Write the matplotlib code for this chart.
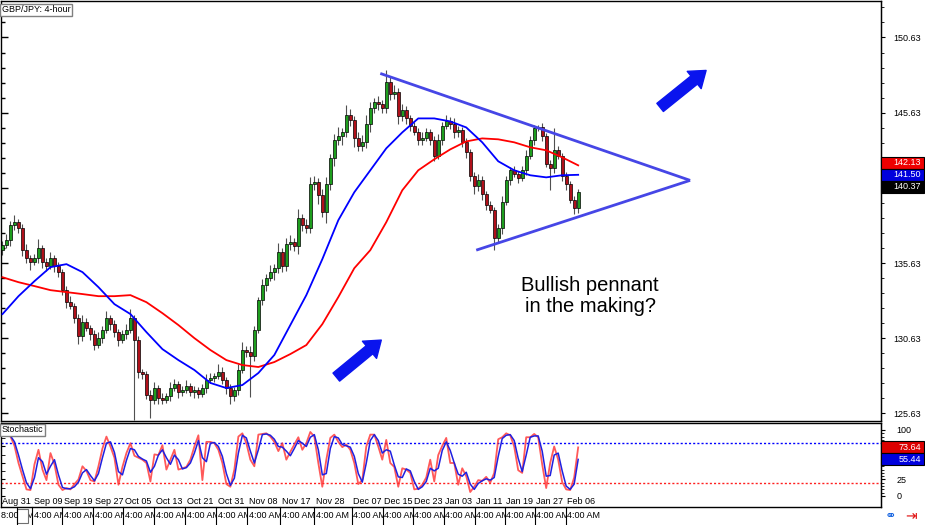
import numpy as np
import matplotlib.pyplot as plt
from matplotlib.patches import Rectangle
from matplotlib.ticker import FixedLocator
from matplotlib.transforms import blended_transform_factory

# 4-hour candles (open = previous close)
first_open = 136.50
closes = [136.82, 137.15, 138.15, 138.35, 137.95, 136.49, 135.96, 135.69, 135.96, 136.62,
          135.69, 135.42, 135.96, 135.42, 135.03, 133.83, 133.03, 132.77, 131.97, 130.78,
          131.71, 131.31, 130.91, 130.18, 130.64, 131.18, 131.97, 131.57, 131.04, 130.51,
          130.91, 131.18, 131.97, 130.51, 128.39, 128.25, 126.86, 126.53, 127.32, 126.66,
          126.53, 126.79, 127.32, 127.59, 127.06, 127.19, 127.46, 127.06, 127.19, 126.93,
          127.32, 127.86, 127.99, 128.12, 128.39, 127.86, 127.32, 126.79, 127.19, 128.52,
          129.85, 129.71, 129.45, 131.18, 133.17, 134.16, 134.63, 135.03, 135.29, 136.35,
          135.42, 136.89, 137.02, 136.75, 138.61, 138.15, 137.95, 140.87, 141.00, 140.14,
          139.01, 140.87, 142.60, 143.79, 144.06, 144.32, 145.45, 145.12, 143.92, 143.39,
          143.66, 144.85, 145.92, 146.31, 146.18, 145.92, 147.64, 146.85, 146.98, 145.38,
          145.78, 145.25, 144.72, 144.32, 143.79, 143.92, 144.32, 143.79, 142.73, 143.79,
          144.72, 145.05, 144.85, 144.32, 144.46, 143.66, 142.99, 141.40, 140.74, 141.14,
          140.21, 139.48, 139.14, 137.28, 137.95, 139.67, 141.14, 141.80, 141.53, 141.27,
          141.80, 142.73, 143.79, 144.59, 144.65, 144.06, 142.20, 141.93, 143.13, 142.73,
          141.40, 140.87, 139.81, 139.28, 140.37]
upper_wick = [0.3, 0.4, 0.3, 0.5, 0.2, 0.3, 0.4, 0.2, 0.3, 0.6, 0.2, 0.3, 0.4, 0.2, 0.3,
              0.2, 0.3, 0.4, 0.2, 0.3, 0.5, 0.3, 0.2, 0.3, 0.4, 0.3, 0.5, 0.2, 0.3, 0.2,
              0.3, 0.4, 0.6, 0.2, 0.3, 0.2, 0.2, 0.3, 0.4, 0.2, 0.3, 0.2, 0.4, 0.3, 0.2,
              0.3, 0.4, 0.2, 0.3, 0.2, 0.3, 0.4, 0.3, 0.2, 0.5, 0.3, 0.2, 0.3, 0.2, 0.4,
              0.5, 0.3, 0.4, 0.3, 0.2, 0.4, 0.3, 0.5, 0.3, 0.6, 0.3, 0.4, 0.5, 0.3, 0.6,
              0.3, 0.4, 0.5, 0.4, 0.3, 0.4, 0.5, 0.3, 0.4, 0.6, 0.3, 0.7, 0.4, 0.3, 0.4,
              0.5, 0.6, 0.4, 0.3, 0.4, 0.3, 0.8, 0.4, 0.5, 0.3, 0.4, 0.3, 0.2, 0.3, 0.3,
              0.4, 0.3, 0.2, 0.3, 0.4, 0.3, 0.4, 0.3, 0.4, 0.3, 0.2, 0.3, 0.2, 0.3, 0.4,
              0.3, 0.2, 0.3, 0.2, 0.3, 0.4, 0.3, 0.2, 0.3, 0.2, 0.3, 0.4, 0.3, 0.2, 0.13,
              0.3, 0.2, 0.3, 1.47, 0.3, 0.2, 0.3, 0.2, 0.3, 0.2]
lower_wick = [0.3, 0.2, 0.4, 0.3, 0.3, 0.4, 0.3, 0.5, 0.2, 0.3, 0.4, 0.3, 0.2, 0.4, 0.3,
              0.3, 0.4, 0.2, 0.3, 0.5, 0.3, 0.2, 0.4, 0.3, 0.2, 0.3, 0.2, 0.4, 0.3, 0.4,
              0.2, 0.3, 0.2, 5.3, 0.4, 0.3, 0.3, 1.2, 0.3, 0.4, 0.3, 0.2, 0.3, 0.2, 0.4,
              0.3, 0.2, 0.3, 0.4, 0.3, 0.2, 0.3, 0.2, 0.3, 0.2, 0.3, 0.4, 0.5, 0.3, 0.3,
              0.2, 0.3, 2.75, 0.3, 0.2, 0.3, 0.4, 0.2, 0.5, 0.3, 0.4, 0.3, 0.4, 0.3, 0.5,
              0.4, 0.3, 0.3, 0.4, 0.6, 0.3, 0.7, 0.4, 0.5, 0.3, 0.6, 0.3, 0.4, 0.6, 0.3,
              0.3, 0.4, 0.5, 0.3, 0.4, 0.3, 0.3, 0.4, 0.3, 0.5, 0.3, 0.4, 0.3, 0.2, 0.3,
              0.3, 0.2, 0.3, 0.3, 0.2, 0.3, 0.2, 0.3, 0.4, 0.3, 0.3, 0.4, 0.3, 0.5, 0.3,
              0.4, 0.3, 0.2, 0.79, 0.3, 0.4, 0.2, 0.3, 0.2, 0.3, 0.2, 0.3, 0.2, 0.3, 0.2,
              0.3, 0.2, 1.46, 0.3, 0.2, 0.3, 0.4, 0.2, 0.4, 0.3]

# moving averages, one value every 4 bars
ma_fast = [132.24, 133.43, 134.43, 135.36, 135.56, 135.03, 134.03, 132.90, 132.24, 131.04,
           129.91, 129.18, 128.52, 127.66, 127.32, 127.52, 128.32, 129.52, 131.51, 133.50,
           135.89, 138.48, 140.34, 141.80, 143.26, 144.32, 145.25, 145.25, 145.05, 144.65,
           143.66, 142.40, 141.80, 141.47, 141.33, 141.47, 141.50]
ma_slow = [134.69, 134.36, 134.10, 133.83, 133.70, 133.57, 133.43, 133.43, 133.50, 133.03,
           132.30, 131.51, 130.64, 129.85, 129.18, 128.85, 128.72, 129.05, 129.58, 130.18,
           131.57, 133.37, 135.29, 136.49, 138.35, 140.47, 141.80, 142.53, 143.19, 143.72,
           143.92, 143.86, 143.66, 143.33, 143.13, 142.66, 142.13]

stoch_main = [97, 93, 90, 76, 50, 30, 10, 9, 48, 70, 40, 24, 65, 48, 17, 9, 12, 10, 18, 25,
              45, 38, 24, 22, 45, 72, 90, 75, 58, 17, 44, 65, 80, 61, 58, 55, 50, 22, 63, 62,
              77, 40, 55, 70, 40, 42, 44, 55, 75, 92, 24, 82, 82, 80, 70, 50, 18, 14, 40, 90,
              95, 80, 55, 45, 93, 94, 95, 90, 82, 68, 80, 55, 67, 78, 89, 70, 80, 97, 90, 50,
              14, 55, 88, 93, 82, 74, 78, 70, 50, 18, 24, 75, 93, 93, 75, 55, 85, 50, 44, 14,
              42, 40, 35, 10, 11, 17, 28, 55, 22, 62, 76, 88, 50, 50, 17, 42, 30, 6, 14, 24,
              23, 29, 20, 35, 86, 89, 95, 92, 75, 39, 35, 89, 89, 94, 89, 48, 12, 50, 75, 55,
              21, 10, 9, 28, 73.64]
stoch_signal = [95, 94, 91, 82, 62, 40, 20, 11, 28, 58, 52, 33, 45, 55, 32, 13, 11, 11, 14, 21,
                35, 40, 31, 23, 34, 58, 80, 82, 66, 37, 32, 54, 72, 70, 60, 56, 53, 36, 45, 62,
                70, 58, 48, 62, 55, 41, 43, 50, 65, 84, 58, 52, 80, 81, 75, 60, 34, 16, 27, 65,
                92, 88, 68, 50, 70, 93, 94, 92, 86, 75, 74, 68, 61, 72, 84, 80, 75, 89, 93, 70,
                32, 34, 72, 90, 88, 78, 76, 74, 60, 34, 21, 50, 84, 93, 84, 65, 70, 68, 47, 29,
                28, 41, 38, 22, 10, 14, 22, 42, 38, 42, 69, 82, 69, 50, 33, 30, 36, 18, 10, 19,
                23, 26, 24, 28, 60, 87, 92, 93, 84, 57, 37, 62, 89, 91, 91, 68, 30, 31, 62, 65,
                38, 15, 10, 18, 55.44]

date_labels = ['Aug 31', 'Sep 09', 'Sep 19', 'Sep 27', 'Oct 05', 'Oct 13', 'Oct 21', 'Oct 31',
               'Nov 08', 'Nov 17', 'Nov 28', 'Dec 07', 'Dec 15', 'Dec 23', 'Jan 03', 'Jan 11',
               'Jan 19', 'Jan 27', 'Feb 06']
date_bars = [-0.5, 7.5, 15, 22.75, 30.25, 38, 45.75, 53.5, 61.25, 69.5, 78, 87.5, 95.25,
             102.75, 110.5, 118.25, 125.75, 133.25, 141]
price_levels = [125.63, 130.63, 135.63, 140.63, 145.63, 150.63]
stoch_levels = [0, 25, 50, 75, 100]
# levels whose labels sit under the coloured price tags
hidden_labels = [140.63, 50, 75]

# pennant lines and arrows (bar, price)
pennant_top = [(94.5, 148.24), (172, 141.13)]
pennant_bottom = [(118.5, 136.49), (172, 141.13)]
arrows = [((83.5, 128.05), (94.75, 130.51)), ((164.5, 145.98), (176, 148.44))]

plt.rcParams['font.family'] = ['Liberation Sans', 'DejaVu Sans']
SMALL = 6.5

closes = np.array(closes)
opens = np.r_[first_open, closes[:-1]]
highs = np.maximum(opens, closes) + np.array(upper_wick)
lows = np.minimum(opens, closes) - np.array(lower_wick)
bars = np.arange(len(closes))

W, H = 925, 525
fig = plt.figure(figsize=(W / 100, H / 100), dpi=100)
ax = fig.add_axes([0.5 / W, 1 - 421 / H, 880.5 / W, 420.5 / H])
sx = fig.add_axes([0.5 / W, 1 - 507 / H, 880.5 / W, 84 / H])

for a in (ax, sx):
    a.set_xlim(-0.5, 219.75)
    a.set_xticks([])
    for s in a.spines.values():
        s.set_color('black')
        s.set_linewidth(1)

# candles
up = closes >= opens
ax.vlines(bars, lows, highs, color='#505050', lw=0.8, zorder=2)
ax.bar(bars, np.maximum(np.abs(closes - opens), 0.05), bottom=np.minimum(opens, closes),
       width=0.75, color=np.where(up, '#1e9e1e', '#b0101a'), edgecolor='black',
       linewidth=0.5, zorder=3)

ma_x = np.arange(0, len(closes), 4)
ax.plot(ma_x, ma_slow, color='#ff0000', lw=1.3, zorder=4)
ax.plot(ma_x, ma_fast, color='#0000ff', lw=1.3, zorder=4)

for line in (pennant_top, pennant_bottom):
    xs, ys = zip(*line)
    ax.plot(xs, ys, color='#4646e6', lw=2, zorder=5, solid_capstyle='butt')

for tail, tip in arrows:
    ax.annotate('', xy=tip, xytext=tail,
                arrowprops=dict(arrowstyle='simple,head_length=1.1,head_width=1.6,tail_width=0.75',
                                mutation_scale=10, color='#0a14ee', shrinkA=0, shrinkB=0))

ax.text(147, 133.45, 'Bullish pennant\nin the making?', ha='center', va='center',
        fontsize=14.5, linespacing=1.1)


def label(v, fmt):
    return '' if v in hidden_labels else fmt.format(v)


ax.set_ylim(125.13, 153.09)
minor_prices = np.arange(125.63, 153.0, 1.0)
ax.set_yticks(price_levels)
ax.yaxis.set_minor_locator(FixedLocator(minor_prices))
ax.tick_params(axis='y', which='both', left=True, right=False, direction='in',
               labelleft=False, width=1)
ax.tick_params(axis='y', which='major', length=5)
ax.tick_params(axis='y', which='minor', length=3)
rax = ax.secondary_yaxis('right')
rax.set_yticks(price_levels)
rax.set_yticklabels([label(v, '{:.2f}') for v in price_levels])
rax.yaxis.set_minor_locator(FixedLocator(minor_prices))
rax.tick_params(which='major', direction='out', length=3, pad=6, labelsize=SMALL)
rax.tick_params(which='minor', direction='out', length=2)

# stochastic panel
sx.set_ylim(-16.7, 110.6)
sx.axhline(80, color='#0000ff', lw=1, ls=(0, (1.5, 1.5)))
sx.axhline(20, color='#ff2020', lw=1, ls=(0, (1.5, 1.5)))
sx.plot(bars, stoch_main, color='#ff3030', lw=1.3, alpha=0.8)
sx.plot(bars, stoch_signal, color='#2020e0', lw=1.1)
sx.set_yticks(stoch_levels)
sx.yaxis.set_minor_locator(FixedLocator(np.arange(0, 101, 12.5)))
sx.tick_params(axis='y', which='both', left=True, right=False, direction='in',
               labelleft=False, length=3)
srax = sx.secondary_yaxis('right')
srax.set_yticks(stoch_levels)
srax.set_yticklabels([label(v, '{:d}') for v in stoch_levels])
srax.yaxis.set_minor_locator(FixedLocator(np.arange(0, 101, 5)))
srax.tick_params(which='major', direction='out', length=3, pad=8, labelsize=SMALL)
srax.tick_params(which='minor', direction='out', length=2)

# date labels inside bottom of the stochastic panel
dtr = blended_transform_factory(sx.transData, sx.transAxes)
for b, lab in zip(date_bars, date_labels):
    sx.text(b + 0.3, 0.06, lab, transform=dtr, ha='left', va='center', fontsize=SMALL)

# second row of time labels under the panels
ftr = blended_transform_factory(sx.transData, fig.transFigure)
yrow = 1 - 516 / H
sx.text(-0.3, yrow, '8:00 AM', transform=ftr, ha='left', va='center', fontsize=SMALL,
        clip_on=False)
sx.add_patch(Rectangle((3.75, 1 - 523 / H), 2.6, 14 / H, transform=ftr, facecolor='white',
                       edgecolor='#707070', lw=0.8, clip_on=False, zorder=5))
for b in date_bars[1:]:
    sx.text(b + 0.3, yrow, '4:00 AM', transform=ftr, ha='left', va='center', fontsize=SMALL,
            clip_on=False, zorder=6,
            bbox=dict(boxstyle='square,pad=0.05', facecolor='white', edgecolor='none'))
for b in [3.75] + date_bars[1:]:
    sx.plot([b, b], [0, 1 - 507 / H], transform=ftr, color='black', lw=0.8,
            clip_on=False, zorder=7)


def tags(a, items, h, width_px=43):
    tr = blended_transform_factory(a.transAxes, a.transData)
    w = width_px / 880.5
    for yc, value, face, fg in items:
        a.add_patch(Rectangle((1.0, yc - h / 2), w, h, transform=tr, facecolor=face,
                              edgecolor='black', lw=0.8, clip_on=False, zorder=10))
        a.text(1.0 + w - 3 / 880.5, yc, f'{value:.2f}', transform=tr, ha='right',
               va='center', color=fg, fontsize=SMALL, clip_on=False, zorder=11)


hp = 12 / 15.06
tags(ax, [(ma_fast[-1] + hp, ma_slow[-1], '#ee0000', 'white'),
          (ma_fast[-1], ma_fast[-1], '#0000dd', 'white'),
          (ma_fast[-1] - hp, closes[-1], 'black', 'white')], hp)
hs = 12 / 0.66
tags(sx, [(stoch_signal[-1] + hs, stoch_main[-1], '#dd0000', 'white'),
          (stoch_signal[-1], stoch_signal[-1], '#0000dd', 'white')], hs)

# boxed captions
fig.text(2 / W, 1 - 10 / H, 'GBP/JPY: 4-hour', ha='left', va='center', fontsize=SMALL,
         bbox=dict(boxstyle='square,pad=0.2', facecolor='white', edgecolor='#808080', lw=1))
fig.text(2 / W, 1 - 430 / H, 'Stochastic', ha='left', va='center', fontsize=SMALL,
         bbox=dict(boxstyle='square,pad=0.2', facecolor='white', edgecolor='#808080', lw=1))

fig.text(885 / W, 1 - 516 / H, '\u26ad', color='#1060e0', fontsize=10, ha='left',
         va='center', family='DejaVu Sans')
fig.text(905 / W, 1 - 516 / H, '\u21e5', color='#e01010', fontsize=10, ha='left',
         va='center', family='DejaVu Sans')

fig.savefig('out.png', dpi=100, facecolor='white')
